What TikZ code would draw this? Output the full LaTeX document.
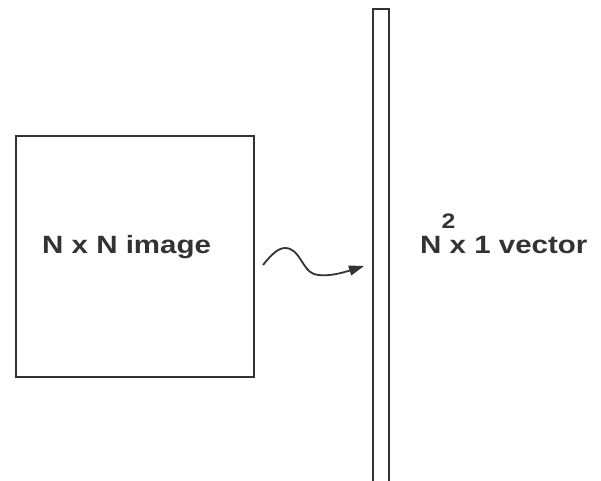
\documentclass[tikz,border=0pt]{standalone}
\usepackage{fontspec}
\setmainfont{Liberation Sans}
\newfontfamily\widesans[FakeStretch=1.18]{Liberation Sans}
\usetikzlibrary{arrows.meta}
\definecolor{ink}{HTML}{333333}
\tikzset{
  frame/.style={draw=ink, line width=1.8pt},
  label/.style={text=ink, font=\widesans\bfseries\fontsize{25}{29}\selectfont, inner sep=0pt, anchor=base west},
  flow/.style={draw=ink, line width=1.8pt, -{Triangle[length=15pt,width=10pt]}}
}
\begin{document}
\begin{tikzpicture}[x=1pt,y=-1pt]
  \useasboundingbox (0,0) rectangle (601,480);
  % the N x N image
  \node[frame, minimum width=238pt, minimum height=241pt, anchor=north west, inner sep=0pt] (img) at (15,135) {};
  \node[label] (imgtext) at (42,253) {N x N image};
  % the long column vector, running off the bottom
  \draw[frame] (373,490) |- (389,9) coordinate (vtop) -- (389,490);
  \node[label] (vectext) at (420,253) {N\rlap{\raisebox{25pt}{\fontsize{21}{21}\selectfont 2}} x 1 vector};
  % wavy arrow from image to vector
  \coordinate (from) at (263,265);
  \coordinate (peak) at (285,248);
  \coordinate (dip) at (314,274);
  \coordinate (to) at (364,266);
  \draw[flow] (from) .. controls (271,255) and (278,248) .. (peak)
              .. controls (300,248) and (302,270) .. (dip)
              .. controls (326,278) and (345,272) .. (to);
\end{tikzpicture}
\end{document}
